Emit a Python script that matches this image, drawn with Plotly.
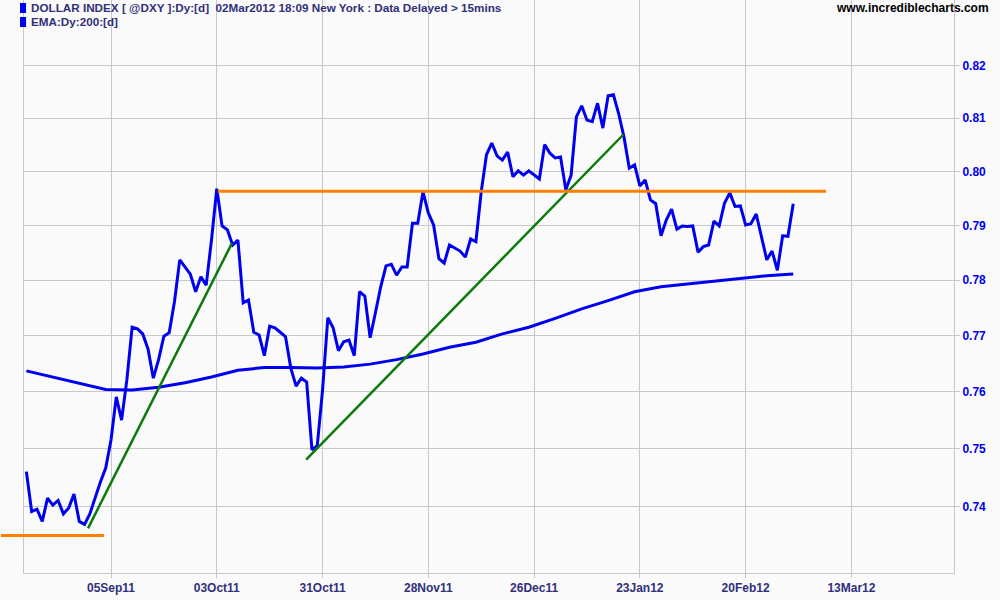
import plotly.graph_objects as go

# ---------------- data (trading-day index from 12Aug11) ----------------
days = list(range(146))
close = [
    0.7460, 0.7391, 0.7395, 0.7374, 0.7414, 0.7402, 0.7410, 0.7387, 0.7397, 0.7421,
    0.7374, 0.7369, 0.7387, 0.7416, 0.7442, 0.7466, 0.7515, 0.7591, 0.7550, 0.7621,
    0.7715, 0.7712, 0.7703, 0.7676, 0.7624, 0.7657, 0.7699, 0.7705, 0.7761, 0.7837,
    0.7824, 0.7811, 0.7779, 0.7806, 0.7791, 0.7873, 0.7968, 0.7899, 0.7892, 0.7864,
    0.7873, 0.7759, 0.7764, 0.7706, 0.7701, 0.7664, 0.7717, 0.7714, 0.7706, 0.7698,
    0.7642, 0.7610, 0.7624, 0.7617, 0.7498, 0.7505, 0.7603, 0.7732, 0.7714, 0.7673,
    0.7689, 0.7692, 0.7664, 0.7779, 0.7771, 0.7696, 0.7741, 0.7788, 0.7826, 0.7829,
    0.7809, 0.7824, 0.7824, 0.7904, 0.7904, 0.7962, 0.7923, 0.7901, 0.7839, 0.7831,
    0.7864, 0.7859, 0.7853, 0.7842, 0.7875, 0.7870, 0.7962, 0.8031, 0.8053, 0.8029,
    0.8021, 0.8036, 0.7990, 0.8001, 0.7993, 0.8001, 0.7993, 0.7986, 0.8050, 0.8034,
    0.8025, 0.8027, 0.7966, 0.7993, 0.8102, 0.8123, 0.8096, 0.8093, 0.8128, 0.8081,
    0.8142, 0.8144, 0.8108, 0.8064, 0.8006, 0.8012, 0.7973, 0.7984, 0.7947, 0.7940,
    0.7881, 0.7910, 0.7930, 0.7893, 0.7899, 0.7898, 0.7899, 0.7851, 0.7861, 0.7864,
    0.7908, 0.7899, 0.7941, 0.7960, 0.7935, 0.7936, 0.7901, 0.7903, 0.7921, 0.7877,
    0.7837, 0.7853, 0.7818, 0.7881, 0.7880, 0.7940,
]
ema_days = [0, 5, 10, 15, 20, 25, 30, 35, 40, 45, 50, 55, 60, 65, 70, 75, 80, 85,
            90, 95, 100, 105, 110, 115, 120, 125, 130, 135, 140, 145]
ema = [0.7637, 0.7626, 0.7615, 0.7604, 0.7603, 0.7608, 0.7616, 0.7626, 0.7638, 0.7643,
       0.7643, 0.7642, 0.7644, 0.7649, 0.7657, 0.7667, 0.7679, 0.7688, 0.7703, 0.7715,
       0.7731, 0.7748, 0.7763, 0.7779, 0.7788, 0.7793, 0.7798, 0.7803, 0.7808, 0.7811]

x_tickvals = [16, 36, 56, 76, 96, 116, 136, 156]
x_ticktext = ["05Sep11", "03Oct11", "31Oct11", "28Nov11", "26Dec11", "23Jan12", "20Feb12", "13Mar12"]
y_tickvals = [0.74, 0.75, 0.76, 0.77, 0.78, 0.79, 0.80, 0.81, 0.82]

# trend lines: (start day, start value, end day, end value)
green_lines = [(11.65, 0.7362, 38.9, 0.7868), (52.9, 0.7481, 112.9, 0.8069)]
orange_lines = [(36.2, 0.7963, 151.2, 0.7963)]
orange_low = (-4.8, 0.7350, 14.7, 0.7350)   # extends into the left margin

header_lines = ["DOLLAR INDEX [ @DXY ]:Dy:[d]  02Mar2012 18:09 New York : Data Delayed > 15mins",
                "EMA:Dy:200:[d]"]
site = "www.incrediblecharts.com"

X_RANGE = [-0.45, 175.4]
Y_RANGE_LOG = [-0.137512, -0.079583]

# ---------------- figure ----------------
BLUE = "#0000F0"
FONT = "Liberation Sans, Arial, sans-serif"
NAVY = "#30307A"

fig = go.Figure()
fig.add_trace(go.Scatter(x=ema_days, y=ema, mode="lines",
                         line=dict(color=BLUE, width=3), hoverinfo="skip"))
fig.add_trace(go.Scatter(x=days, y=close, mode="lines",
                         line=dict(color=BLUE, width=3), hoverinfo="skip"))

shapes = []
for x0, y0, x1, y1 in green_lines:
    shapes.append(dict(type="line", xref="x", yref="y", x0=x0, y0=y0, x1=x1, y1=y1,
                       line=dict(color="#0A7A0A", width=2.5)))
for x0, y0, x1, y1 in orange_lines:
    shapes.append(dict(type="line", xref="x", yref="y", x0=x0, y0=y0, x1=x1, y1=y1,
                       line=dict(color="#FF8000", width=3)))

def day_to_paper(d):
    return (d - X_RANGE[0]) / (X_RANGE[1] - X_RANGE[0])

shapes.append(dict(type="line", xref="paper", yref="y",
                   x0=day_to_paper(orange_low[0]), y0=orange_low[1],
                   x1=day_to_paper(orange_low[2]), y1=orange_low[3],
                   line=dict(color="#FF8000", width=3)))

# legend markers
for i in range(len(header_lines)):
    shapes.append(dict(type="rect", xref="paper", yref="paper",
                       x0=-0.0043, x1=0.0022, y0=1 - (3 + 14 * i) / 573, y1=1 - (13 + 14 * i) / 573,
                       fillcolor=BLUE, line=dict(width=0)))

annotations = []
for i, t in enumerate(header_lines):
    annotations.append(dict(text=t, xref="paper", yref="paper", x=0.0055, y=1 - (8 + 14 * i) / 573,
                            xanchor="left", yanchor="middle", showarrow=False,
                            font=dict(family=FONT, size=11.7, color=NAVY, weight="bold")))
annotations.append(dict(text=site, xref="paper", yref="paper", x=1.0397, y=1 - 8 / 573,
                        xanchor="right", yanchor="middle", showarrow=False,
                        font=dict(family=FONT, size=12, color="#000000", weight="bold")))

fig.update_layout(
    width=1000, height=600,
    margin=dict(l=24, r=46, t=0, b=27),
    paper_bgcolor="#FAFAFA", plot_bgcolor="#FAFAFA",
    showlegend=False,
    shapes=shapes, annotations=annotations,
    xaxis=dict(range=X_RANGE, tickvals=x_tickvals, ticktext=x_ticktext,
               showgrid=True, gridcolor="#C8C8C8", gridwidth=1,
               showline=True, linecolor="#C8C8C8", linewidth=1, mirror=True,
               ticks="outside", ticklen=4, tickcolor="#C8C8C8",
               tickfont=dict(family=FONT, size=12, color=NAVY, weight="bold"),
               zeroline=False, fixedrange=True),
    yaxis=dict(type="log", range=Y_RANGE_LOG, side="right",
               tickvals=y_tickvals, tickformat=".2f",
               showgrid=True, gridcolor="#C8C8C8", gridwidth=1,
               showline=True, linecolor="#C8C8C8", linewidth=1, mirror=True,
               ticks="outside", ticklen=5, tickcolor="#C8C8C8",
               tickfont=dict(family=FONT, size=12, color="#0000F0", weight="bold"),
               zeroline=False, fixedrange=True),
)

fig.write_html("out.html", config={"displayModeBar": False},
               post_script="document.body.style.margin='0';document.body.style.background='#FAFAFA';")
